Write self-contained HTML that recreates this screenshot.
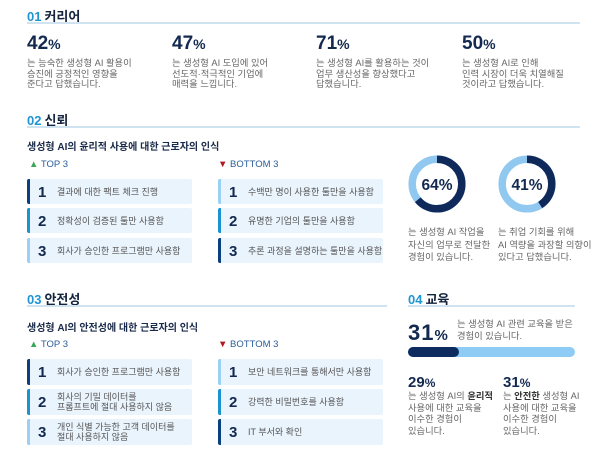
<!DOCTYPE html>
<html><head><meta charset="utf-8"><style>
*{margin:0;padding:0;box-sizing:border-box}
body{width:600px;height:458px;background:#fff;position:relative;overflow:hidden;font-family:"Liberation Sans","Noto Sans CJK KR",sans-serif;color:#1a2a4a}
.a{position:absolute;white-space:nowrap}
.h{font-size:13px;font-weight:bold;color:#14243f}
.h b{color:#1f95d3;font-weight:bold;margin-right:3px}
.ln{position:absolute;height:1.5px;background:#cfe3f0}
.big{font-size:19px;font-weight:bold;color:#13294f}
.big small{font-size:14px}
.d{font-size:9.3px;color:#666;line-height:10.5px}
.sub{font-size:10px;font-weight:bold;color:#1a2a4a}
.tag{font-size:9.5px;color:#2a5c9a}
.box{position:absolute;background:#eaf4fd;border-radius:2px;height:25px;width:165px}
.box i{position:absolute;left:0;top:0;bottom:0;width:3px;border-radius:2px 0 0 2px}
.box .n{position:absolute;left:11px;top:5px;font-size:15px;font-weight:bold;color:#13294f}
.box .t{position:absolute;left:30px;font-size:9px;color:#555;line-height:10px}
.c1{background:#0c3f7f}.c2{background:#1b93d1}.c3{background:#9bd0f3}
</style></head><body>
<div class="a h" style="left:27px;top:6px"><b>01</b>커리어</div>
<div class="ln" style="left:27px;top:22px;width:553px"></div>

<div class="a big" style="left:27px;top:33px">42<small>%</small></div>
<div class="a d" style="left:27px;top:58px">는 능숙한 생성형 AI 활용이<br>승진에 긍정적인 영향을<br>준다고 답했습니다.</div>
<div class="a big" style="left:172px;top:33px">47<small>%</small></div>
<div class="a d" style="left:172px;top:58px">는 생성형 AI 도입에 있어<br>선도적·적극적인 기업에<br>매력을 느낍니다.</div>
<div class="a big" style="left:316px;top:33px">71<small>%</small></div>
<div class="a d" style="left:316px;top:58px">는 생성형 AI를 활용하는 것이<br>업무 생산성을 향상했다고<br>답했습니다.</div>
<div class="a big" style="left:462px;top:33px">50<small>%</small></div>
<div class="a d" style="left:462px;top:58px">는 생성형 AI로 인해<br>인력 시장이 더욱 치열해질<br>것이라고 답했습니다.</div>

<div class="a h" style="left:27px;top:110px"><b>02</b>신뢰</div>
<div class="ln" style="left:27px;top:126px;width:553px"></div>
<div class="a sub" style="left:27px;top:138px">생성형 AI의 윤리적 사용에 대한 근로자의 인식</div>
<div class="a tag" style="left:29px;top:159px"><span style="color:#3aa65a">▲</span> TOP 3</div>
<div class="a tag" style="left:218px;top:159px"><span style="color:#b01a24">▼</span> BOTTOM 3</div>

<div class="box" style="left:27px;top:179px"><i class="c1"></i><span class="n">1</span><span class="t" style="top:8px">결과에 대한 팩트 체크 진행</span></div>
<div class="box" style="left:27px;top:208px"><i class="c2"></i><span class="n">2</span><span class="t" style="top:8px">정확성이 검증된 툴만 사용함</span></div>
<div class="box" style="left:27px;top:238px"><i class="c3"></i><span class="n">3</span><span class="t" style="top:8px">회사가 승인한 프로그램만 사용함</span></div>
<div class="box" style="left:218px;top:179px"><i class="c3"></i><span class="n">1</span><span class="t" style="top:8px">수백만 명이 사용한 툴만을 사용함</span></div>
<div class="box" style="left:218px;top:208px"><i class="c2"></i><span class="n">2</span><span class="t" style="top:8px">유명한 기업의 툴만을 사용함</span></div>
<div class="box" style="left:218px;top:238px"><i class="c1"></i><span class="n">3</span><span class="t" style="top:8px">추론 과정을 설명하는 툴만을 사용함</span></div>

<svg class="a" style="left:0;top:0" width="600" height="458">
<circle cx="437" cy="184" r="24.8" fill="none" stroke="#90c8f0" stroke-width="7.5"/>
<circle cx="437" cy="184" r="24.8" fill="none" stroke="#0f2a5a" stroke-width="7.5" stroke-dasharray="99.7 200" transform="rotate(-90 437 184)"/>
<circle cx="527" cy="184" r="24.8" fill="none" stroke="#90c8f0" stroke-width="7.5"/>
<circle cx="527" cy="184" r="24.8" fill="none" stroke="#0f2a5a" stroke-width="7.5" stroke-dasharray="63.9 200" transform="rotate(-90 527 184)"/>
<text x="437" y="190" text-anchor="middle" font-size="15.5" font-weight="bold" fill="#13294f" font-family="Liberation Sans">64%</text>
<text x="527" y="190" text-anchor="middle" font-size="15.5" font-weight="bold" fill="#13294f" font-family="Liberation Sans">41%</text>
</svg>
<div class="a d" style="left:408px;top:226px;line-height:12.5px">는 생성형 AI 작업을<br>자신의 업무로 전달한<br>경험이 있습니다.</div>
<div class="a d" style="left:498px;top:226px;line-height:12.5px">는 취업 기회를 위해<br>AI 역량을 과장할 의향이<br>있다고 답했습니다.</div>

<div class="a h" style="left:27px;top:289px"><b>03</b>안전성</div>
<div class="ln" style="left:27px;top:305px;width:360px"></div>
<div class="a sub" style="left:27px;top:319px">생성형 AI의 안전성에 대한 근로자의 인식</div>
<div class="a tag" style="left:29px;top:339px"><span style="color:#3aa65a">▲</span> TOP 3</div>
<div class="a tag" style="left:218px;top:339px"><span style="color:#b01a24">▼</span> BOTTOM 3</div>

<div class="box" style="left:27px;top:359px;height:26px"><i class="c1"></i><span class="n">1</span><span class="t" style="top:8px">회사가 승인한 프로그램만 사용함</span></div>
<div class="box" style="left:27px;top:389px;height:26px"><i class="c2"></i><span class="n" style="top:5px">2</span><span class="t" style="top:3px">회사의 기밀 데이터를<br>프롬프트에 절대 사용하지 않음</span></div>
<div class="box" style="left:27px;top:419px;height:26px"><i class="c3"></i><span class="n" style="top:5px">3</span><span class="t" style="top:3px">개인 식별 가능한 고객 데이터를<br>절대 사용하지 않음</span></div>
<div class="box" style="left:218px;top:359px;height:26px"><i class="c3"></i><span class="n">1</span><span class="t" style="top:8px">보안 네트워크를 통해서만 사용함</span></div>
<div class="box" style="left:218px;top:389px;height:26px"><i class="c2"></i><span class="n">2</span><span class="t" style="top:8px">강력한 비밀번호를 사용함</span></div>
<div class="box" style="left:218px;top:419px;height:26px"><i class="c1"></i><span class="n">3</span><span class="t" style="top:8px">IT 부서와 확인</span></div>

<div class="a h" style="left:408px;top:289px"><b>04</b>교육</div>
<div class="ln" style="left:408px;top:305px;width:167px"></div>
<div class="a big" style="left:408px;top:320px;font-size:22px;letter-spacing:1px">31<small style="font-size:15px">%</small></div>
<div class="a d" style="left:457px;top:318px;line-height:12px">는 생성형 AI 관련 교육을 받은<br>경험이 있습니다.</div>
<div style="position:absolute;left:408px;top:347px;width:167px;height:10px;border-radius:5px;background:#8ecbf5"></div>
<div style="position:absolute;left:408px;top:347px;width:51px;height:10px;border-radius:5px;background:#0d2b5e"></div>
<div class="a big" style="left:408px;top:374px;font-size:15px">29<small style="font-size:12px">%</small></div>
<div class="a d" style="left:408px;top:391px;line-height:11.7px">는 생성형 AI의 <b style="color:#333">윤리적</b><br>사용에 대한 교육을<br>이수한 경험이<br>있습니다.</div>
<div class="a big" style="left:503px;top:374px;font-size:15px">31<small style="font-size:12px">%</small></div>
<div class="a d" style="left:503px;top:391px;line-height:11.7px">는 <b style="color:#333">안전한</b> 생성형 AI<br>사용에 대한 교육을<br>이수한 경험이<br>있습니다.</div>
</body></html>
